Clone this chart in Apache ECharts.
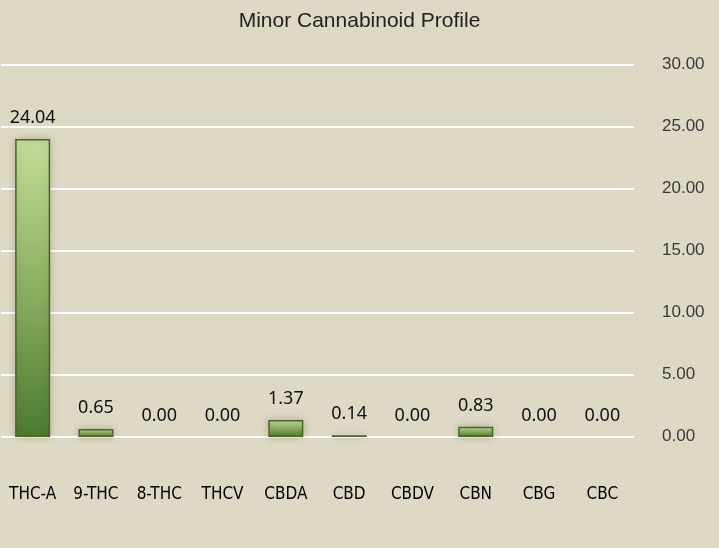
<!DOCTYPE html>
<html>
<head>
<meta charset="utf-8">
<script src="https://cdn.jsdelivr.net/npm/echarts@6/dist/echarts.min.js"></script>
<style>
html,body{margin:0;padding:0;background:#DDD9C4;}
#chart{width:719px;height:548px;}
</style>
</head>
<body>
<div id="chart"></div>
<script>
const titleText = "Minor Cannabinoid Profile";
const categories = ["THC-A", "9-THC", "8-THC", "THCV", "CBDA", "CBD", "CBDV", "CBN", "CBG", "CBC"];
const values = [24.04, 0.65, 0.00, 0.00, 1.37, 0.14, 0.00, 0.83, 0.00, 0.00];
const yMin = 0, yMax = 30, yStep = 5;

const chart = echarts.init(document.getElementById('chart'), null, {renderer: 'canvas'});

const barData = values.map(v => v === 0 ? {value: v, itemStyle: {borderWidth: 0, shadowBlur: 0}} : {value: v});

chart.setOption({
  backgroundColor: '#DDD9C4',
  animation: false,
  title: {
    text: titleText,
    left: 'center',
    top: 6,
    textStyle: {fontFamily: 'Liberation Sans', fontSize: 21, fontWeight: 'normal', color: '#222222'}
  },
  grid: {left: 1, right: 85, top: 65, bottom: 111, containLabel: false},
  xAxis: {
    type: 'category',
    data: categories,
    axisLine: {show: false},
    axisTick: {show: false},
    axisLabel: {
      margin: 49,
      interval: 0,
      fontFamily: '"Liberation Sans Narrow", "DejaVu Sans Condensed", sans-serif',
      fontSize: 17,
      color: '#000000'
    }
  },
  yAxis: {
    type: 'value',
    position: 'right',
    min: yMin, max: yMax, interval: yStep,
    axisLine: {show: false},
    axisTick: {show: false},
    splitLine: {lineStyle: {color: '#FFFFFF', width: 2}},
    axisLabel: {
      margin: 28,
      fontFamily: 'Liberation Sans',
      fontSize: 17,
      color: '#3a3a3a',
      verticalAlign: 'bottom',
      padding: [0, 0, -8, 0],
      formatter: v => v.toFixed(2)
    }
  },
  series: [{
    type: 'bar',
    data: barData,
    barWidth: 35,
    itemStyle: {
      color: new echarts.graphic.LinearGradient(0, 0, 0, 1, [
        {offset: 0, color: '#c4dd99'},
        {offset: 0.5, color: '#8bb062'},
        {offset: 1, color: '#4c7a31'}
      ]),
      borderColor: '#4f6228',
      borderWidth: 1.5,
      shadowBlur: 8,
      shadowColor: 'rgba(0,0,0,0.2)'
    },
    label: {
      show: true,
      position: 'top',
      distance: 12,
      fontFamily: '"Noto Sans", "Open Sans", sans-serif',
      fontSize: 18,
      color: '#111111',
      formatter: p => p.value.toFixed(2)
    }
  }]
});
</script>
</body>
</html>
